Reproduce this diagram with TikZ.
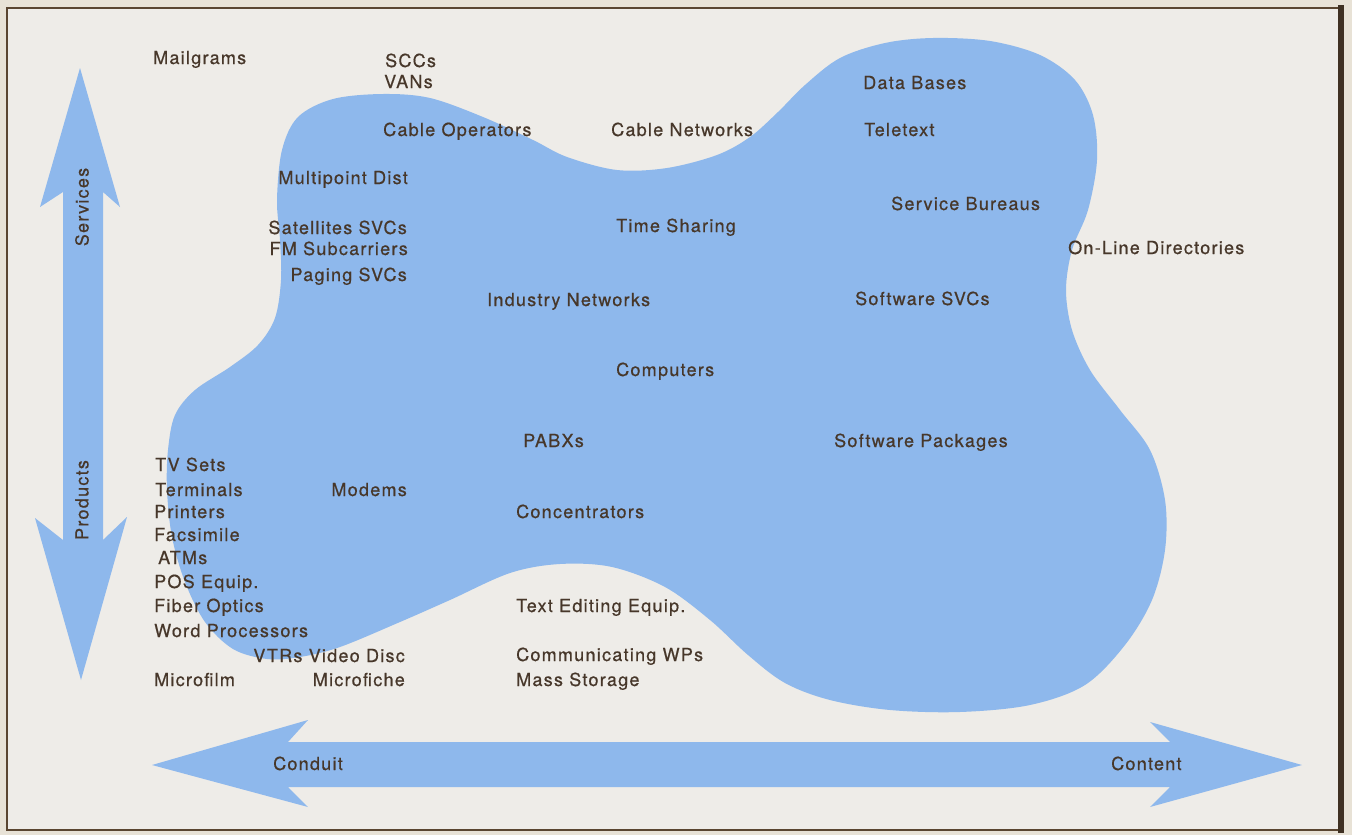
\documentclass[tikz,border=0pt]{standalone}
\usepackage{fontspec}
\newfontfamily\lblfont[LetterSpace=7,FakeBold=0.6]{TeX Gyre Heros}
\definecolor{blob}{HTML}{8EB8EC}
\definecolor{paper}{HTML}{EEECE8}
\definecolor{outer}{HTML}{E8E2D6}
\definecolor{ink}{HTML}{47372A}
\definecolor{framec}{HTML}{5A4530}
\begin{document}
\begin{tikzpicture}[x=1pt,y=-1pt,
  lbl/.style={font=\lblfont\fontsize{18}{20}\selectfont, text=ink, inner sep=0pt, anchor=base west},
  lblr/.style={lbl, anchor=base east},
  axis label/.style={font=\lblfont\fontsize{18}{20}\selectfont, text=ink, inner sep=0pt},
  shape fill/.style={fill=blob}]
\useasboundingbox (0,0) rectangle (1352,835);
\fill[outer] (0,0) rectangle (1352,835);
\fill[paper] (7,8) rectangle (1340,830);
\draw[framec, line width=1.5pt] (1340,8) -- (7,8) -- (7,830) -- (1340,830);
\draw[framec!70!black, line width=6pt] (1341,5) -- (1341,833);
% blob
\fill[shape fill] plot[smooth cycle, tension=0.55] coordinates {
 (277,200) (282,150) (298,117) (333,99) (383,94) (430,98) (483,117) (533,140)
 (567,157) (617,170) (667,168) (717,155) (750,137) (778,112) (805,85) (840,58)
 (885,43) (933,38) (990,41) (1040,55) (1075,80) (1093,115) (1097,160) (1088,210)
 (1072,250) (1066,290) (1072,330) (1090,370) (1120,410) (1150,450) (1165,500)
 (1165,550) (1152,600) (1125,645) (1085,685) (1030,705) (960,712) (890,710)
 (830,700) (785,683) (748,655) (710,620) (665,587) (612,567) (560,564) (510,573)
 (450,600) (400,622) (340,647) (300,657) (267,659) (233,649) (205,622) (185,582)
 (172,537) (167,490) (168,450) (175,415) (195,390) (230,367) (258,345) (275,318)
 (281,280) (280,240)};
% vertical double arrow
\fill[shape fill] (80,68) -- (120,207) -- (103,192) -- (103,540) -- (127,517) -- (81,680)
  -- (35,518) -- (63,540) -- (63,192) -- (40,207) -- cycle;
% horizontal double arrow
\fill[shape fill] (152,765) -- (308,720) -- (288,742) -- (1170,742) -- (1150,722) -- (1302,765)
  -- (1150,807) -- (1170,787) -- (288,787) -- (308,807) -- cycle;
\node[axis label, rotate=90] (services) at (82,207) {Services};
\node[axis label, rotate=90] (products) at (82,500) {Products};
\node[axis label, anchor=base west] (conduit) at (273,770) {Conduit};
\node[axis label, anchor=base west] (content) at (1111,770) {Content};
% labels
\node[lbl] (mailgrams) at (153,64) {Mailgrams};
\node[lbl] (sccs) at (385,67) {SCCs};
\node[lbl] (vans) at (384,88) {VANs};
\node[lbl] (cableop) at (383,136) {Cable Operators};
\node[lbl] (cablenet) at (611,136) {Cable Networks};
\node[lbl] (databases) at (863,89) {Data Bases};
\node[lbl] (teletext) at (864,136) {Teletext};
\node[lblr] (multipoint) at (408,184) {Multipoint Dist};
\node[lbl] (servbur) at (891,210) {Service Bureaus};
\node[lbl] (timesharing) at (616,232) {Time Sharing};
\node[lblr] (satellites) at (407,234) {Satellites SVCs};
\node[lblr] (fmsub) at (408,255) {FM Subcarriers};
\node[lblr] (paging) at (407,281) {Paging SVCs};
\node[lbl] (online) at (1068,254) {On-Line Directories};
\node[lbl] (industry) at (487,306) {Industry Networks};
\node[lbl] (softsvcs) at (855,305) {Software SVCs};
\node[lbl] (computers) at (616,376) {Computers};
\node[lbl] (pabxs) at (523,447) {PABXs};
\node[lbl] (softpack) at (834,447) {Software Packages};
\node[lbl] (tvsets) at (155,471) {TV Sets};
\node[lbl] (terminals) at (155,496) {Terminals};
\node[lblr] (modems) at (407,496) {Modems};
\node[lbl] (printers) at (154,518) {Printers};
\node[lbl] (concentrators) at (516,518) {Concentrators};
\node[lbl] (facsimile) at (154,541) {Facsimile};
\node[lbl] (atms) at (158,564) {ATMs};
\node[lbl] (pos) at (154,588) {POS Equip.};
\node[lbl] (fiber) at (154,612) {Fiber Optics};
\node[lbl] (textedit) at (516,612) {Text Editing Equip.};
\node[lbl] (wordproc) at (154,637) {Word Processors};
\node[lblr] (vtrs) at (405,662) {VTRs Video Disc};
\node[lbl] (commwps) at (516,661) {Communicating WPs};
\node[lbl] (microfilm) at (154,686) {Microfilm};
\node[lblr] (microfiche) at (405,686) {Microfiche};
\node[lbl] (massstorage) at (516,686) {Mass Storage};
\end{tikzpicture}
\end{document}
